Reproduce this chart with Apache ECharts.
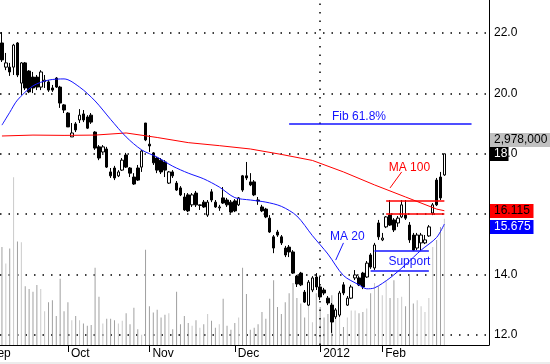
<!DOCTYPE html>
<html>
<head>
<meta charset="utf-8">
<script src="https://cdn.jsdelivr.net/npm/echarts@6/dist/echarts.min.js"></script>
<style>html,body{margin:0;padding:0;background:#fff}#c{width:550px;height:364px}</style>
</head>
<body>
<div id="c"></div>
<script>
// Daily candles: [open, close, low, high]
const ohlc = [
[21.67,21.11,21.04,22.03],[20.87,21.01,20.77,21.34],[20.87,20.71,20.58,21.01],[20.87,21.60,20.61,21.64],
[21.67,20.61,20.54,21.70],[20.34,21.01,19.95,21.04],[21.01,20.18,20.11,21.04],[20.74,20.05,20.01,20.77],
[20.54,20.18,20.01,20.71],[20.54,20.21,20.11,20.61],[20.21,20.71,20.11,20.77],[20.39,20.44,20.18,20.61],
[20.38,20.11,20.05,20.44],[20.18,20.11,20.05,20.28],[20.51,20.21,20.18,20.54],[20.21,19.68,19.52,20.25],
[19.62,19.45,19.35,19.65],[19.35,18.89,18.89,19.38],[18.56,18.69,18.56,19.02],[18.99,18.79,18.72,19.05],
[19.12,19.28,19.02,19.48],[19.32,19.12,19.05,19.45],[19.22,18.85,18.82,19.28],[19.28,19.05,18.99,19.35],
[18.72,18.19,18.13,18.75],[18.23,17.86,17.79,18.29],[18.06,18.23,18.03,18.29],[18.16,17.56,17.53,18.23],
[17.40,17.27,17.20,17.53],[17.53,17.20,17.13,17.60],[17.27,17.40,17.23,17.46],[17.46,17.79,17.43,17.86],
[17.96,17.56,17.53,18.03],[17.53,17.36,17.23,17.56],[17.23,17.00,16.97,17.36],[17.53,17.13,17.10,17.63],
[17.56,18.09,17.40,18.13],[19.02,18.46,18.42,19.02],[18.32,18.26,18.06,18.62],[18.03,17.70,17.63,18.06],
[17.86,17.46,17.36,17.89],[17.79,17.40,17.33,17.86],[17.73,17.46,17.23,17.79],[17.03,17.40,17.00,17.43],
[17.40,17.27,17.20,17.46],[17.03,16.80,16.77,17.10],[16.87,16.64,16.60,16.93],[16.57,16.14,16.11,16.70],
[16.64,16.11,16.07,16.70],[16.31,16.64,16.24,16.70],[16.70,16.31,16.24,16.77],[16.29,16.31,16.14,16.32],
[16.40,16.24,16.21,16.47],[15.97,16.40,15.91,16.47],[16.74,16.47,16.40,16.83],[16.40,16.24,16.21,16.47],
[16.21,16.24,16.11,16.31],[16.54,16.37,16.34,16.90],[16.47,16.31,16.24,16.54],[16.40,16.07,16.04,16.47],
[16.44,16.11,16.07,16.50],[16.31,16.54,16.27,16.57],[17.27,16.80,16.74,17.30],[17.27,17.20,17.13,17.73],
[17.07,16.97,16.93,17.36],[17.07,16.64,16.60,17.13],[16.47,16.44,16.31,16.57],[16.24,16.11,16.07,16.31],
[16.17,15.91,15.87,16.21],[15.87,15.41,15.38,15.97],[15.25,14.88,14.71,15.31],[15.41,15.31,15.25,15.48],
[15.25,15.05,14.98,15.31],[14.88,14.65,14.58,14.95],[14.91,14.75,14.58,14.98],[14.75,14.05,14.02,14.81],
[13.95,13.69,13.59,13.99],[14.05,13.66,13.62,14.09],[13.42,13.09,13.06,13.49],[12.99,13.75,12.96,13.82],
[13.49,13.89,13.42,13.95],[13.92,13.59,13.49,14.05],[13.59,13.26,13.16,13.92],[13.49,13.39,13.32,13.56],
[13.22,13.06,12.99,13.29],[12.99,12.43,12.07,13.06],[12.60,12.83,12.53,12.89],[12.66,13.39,12.60,13.46],
[13.66,13.39,13.32,13.75],[12.99,13.22,12.96,13.29],[13.22,13.59,13.19,13.66],[13.89,13.99,13.82,14.15],
[13.89,13.66,13.62,13.95],[14.05,13.59,13.52,14.09],[13.92,14.38,13.89,14.45],[14.65,14.25,14.19,14.71],
[14.22,14.98,14.15,15.05],[15.71,15.25,15.15,15.81],[15.15,15.21,15.11,15.38],[15.58,15.91,15.54,15.94],
[15.97,15.64,15.61,16.47],[15.81,15.48,15.41,15.87],[15.71,15.87,15.58,15.94],[15.91,16.31,15.87,16.47],
[15.97,15.87,15.81,16.47],[15.64,15.15,15.05,15.74],[15.31,14.81,14.78,15.38],[14.88,15.31,14.81,15.38],
[15.05,15.31,14.81,15.38],[15.05,15.15,15.01,15.31],[15.28,15.58,15.25,15.64],[16.04,16.31,15.97,16.37],
[17.13,16.31,16.27,17.20],[17.23,16.54,16.47,17.40],[17.30,18.00,17.27,18.00]
];
// Daily volume, millions of shares
const volume = [
1.42,1.18,1.40,2.43,1.50,1.49,0.85,0.81,0.77,0.87,
0.81,0.49,0.62,0.65,0.42,0.96,0.49,0.62,0.36,0.42,
0.36,0.31,0.28,0.29,1.12,0.70,0.31,0.38,0.38,0.36,
0.31,0.35,0.46,0.30,0.54,0.23,0.15,1.38,0.56,0.47,
0.51,0.40,0.44,0.46,0.23,0.77,
0.30,0.42,0.32,0.28,0.36,0.25,0.30,0.45,0.35,0.25,
0.30,0.67,0.28,0.22,0.32,0.40,1.12,0.74,0.22,0.25,
0.30,0.48,0.38,0.67,0.94,0.55,0.45,0.62,0.75,0.90,
0.68,0.60,0.40,0.85,0.33,0.75,0.55,0.40,0.45,0.72,
0.40,0.55,0.26,0.40,0.50,0.50,
0.46,0.48,0.53,0.75,0.90,0.85,0.72,0.94,0.68,0.94,
0.68,0.70,0.56,1.01,0.60,0.65,0.56,0.48,0.68,1.42,
1.52,1.71,1.83
];
// Moving averages (day index -> value)
const ma20Idx = [0,2,4,8,12,16,20,24,28,32,36,40,44,48,52,56,60,64,68,72,76,80,84,88,92,94,96,100,104,108,112,114];
const ma20Val = [18.95,19.37,19.78,20.25,20.44,20.48,20.21,19.75,19.14,18.56,18.13,17.89,17.59,17.36,17.17,16.90,16.55,16.47,16.40,16.26,15.94,15.29,14.68,13.97,13.66,13.53,13.56,13.89,14.33,14.81,15.23,15.675];
const ma100Idx = [0,8,16,24,32,40,48,56,64,72,80,88,96,104,112,114];
const ma100Val = [18.59,18.62,18.61,18.62,18.69,18.54,18.37,18.27,18.16,17.98,17.78,17.40,16.97,16.57,16.17,16.115];
// Month ticks (day index of first session of month)
const monthLabels = ['Sep','Oct','Nov','Dec','2012','Feb'];
const monthIdx = [-4,17,38,60,82,98];
const yearIdx = 82;
// Price axis range shown
const priceMin = 11.669, priceMax = 23.093, priceStep = 2;
// Drawn annotations
const fibSpan = [74,121];
const fibLevel = 18.99;
const supportSpans = [[96,110],[95,110]];
const supportLevels = [14.79,14.13];
const resistSpan = [99,114];
const resistLevels = [16.45,16.01];
const noteTexts = ['Fib 61.8%','MA 100','MA 20','Support'];
const noteIdx = [92,105,89,105];
const noteVal = [19.22,17.53,15.25,14.42];
const ma100Pointer = [[103,17.40],[100,16.87]];
const ma20Pointer = [[88,15.05],[86,14.48]];
// Right-hand tags
const volTag = 2978000;
const lastTag = 18;
const ma100Tag = 16.115;
const ma20Tag = 15.675;

const FONT = "'Liberation Sans', Arial, sans-serif";
const BLUE = '#1414ff', RED = '#ff0000';
const N = ohlc.length, TAIL = 11, TOTAL = N + TAIL;
const cats = Array.from({length: TOTAL}, (_, i) => String(i));
const padArr = (arr, empty) => arr.concat(Array(TAIL).fill(empty));
const monthAt = {};
monthIdx.forEach((d, k) => { monthAt[d] = monthLabels[k]; });
const isMonth = i => monthAt[i] !== undefined;
const dotted = {color: '#000', width: 1.5, type: [1.5, 7]};

const chart = echarts.init(document.getElementById('c'));
const noteColors = [BLUE, RED, BLUE, BLUE];
const mkNote = k => ({
  coord: [cats[noteIdx[k]], noteVal[k]], symbol: 'rect', symbolSize: 1,
  itemStyle: {color: 'rgba(0,0,0,0)'},
  label: {show: true, position: 'inside', formatter: noteTexts[k], color: noteColors[k], fontSize: 12, fontFamily: FONT}
});
const seg = (a, b, v) => [{coord: [cats[a], v]}, {coord: [cats[b], v]}];
const ptr = p => [{coord: [cats[p[0][0]], p[0][1]], lineStyle: {width: 1}}, {coord: [cats[p[1][0]], p[1][1]]}];

chart.setOption({
  animation: false,
  backgroundColor: '#fff',
  grid: [
    {left: 0, width: 489, top: 0, height: 345},
    {left: 0, width: 489, top: 0, height: 345}
  ],
  xAxis: [
    {type: 'category', gridIndex: 0, data: cats, show: false},
    {type: 'category', gridIndex: 1, data: cats,
     axisLine: {lineStyle: {color: '#000', width: 1}},
     axisTick: {show: true, alignWithLabel: true, interval: isMonth, length: 7, lineStyle: {color: '#000'}},
     axisLabel: {interval: isMonth, formatter: (v, i) => monthAt[i] || '', align: 'left', padding: [0, 0, 0, 3],
                 margin: 3, color: '#000', fontSize: 12, fontFamily: FONT},
     splitLine: {show: false}}
  ],
  yAxis: [
    {type: 'value', gridIndex: 0, position: 'right', min: priceMin, max: priceMax,
     minInterval: priceStep, maxInterval: priceStep,
     axisLine: {show: false}, axisTick: {show: false},
     axisLabel: {formatter: v => (Math.abs(v / priceStep - Math.round(v / priceStep)) < 1e-6 ? v.toFixed(1) : ''),
                 showMinLabel: false, showMaxLabel: false,
                 margin: 5, color: '#000', fontSize: 12, fontFamily: FONT},
     splitLine: {show: true, showMinLine: false, showMaxLine: false, lineStyle: dotted}},
    {type: 'value', gridIndex: 1, position: 'right', min: 0, max: 5,
     axisLine: {show: true, lineStyle: {color: '#000', width: 1}}, axisTick: {show: false},
     axisLabel: {show: false}, splitLine: {show: false}}
  ],
  series: [
    {type: 'bar', xAxisIndex: 1, yAxisIndex: 1, data: padArr(volume, '-'), barWidth: 1, silent: true,
     itemStyle: {color: p => { const c = ohlc[p.dataIndex]; return c && c[1] < c[0] ? '#a0a0a0' : '#cacaca'; }},
     markLine: {silent: true, symbol: 'none', label: {show: false}, lineStyle: dotted, data: [{xAxis: cats[yearIdx]}]}},
    {type: 'candlestick', xAxisIndex: 0, yAxisIndex: 0, data: padArr(ohlc, ['-','-','-','-']), barWidth: 3, silent: true,
     itemStyle: {color: '#fff', color0: '#000', borderColor: '#000', borderColor0: '#000', borderWidth: 1}},
    {type: 'line', xAxisIndex: 0, yAxisIndex: 0, data: ma100Idx.map((d, k) => [cats[d], ma100Val[k]]),
     symbol: 'none', silent: true, lineStyle: {color: RED, width: 1},
     markLine: {silent: true, symbol: 'none', label: {show: false}, lineStyle: {color: RED, width: 1.5, type: 'solid'},
       data: [seg(resistSpan[0], resistSpan[1], resistLevels[0]), seg(resistSpan[0], resistSpan[1], resistLevels[1]), ptr(ma100Pointer)]},
     markPoint: {silent: true, data: [mkNote(1)]}},
    {type: 'line', xAxisIndex: 0, yAxisIndex: 0, data: ma20Idx.map((d, k) => [cats[d], ma20Val[k]]),
     symbol: 'none', smooth: 0.3, silent: true, lineStyle: {color: BLUE, width: 1},
     markLine: {silent: true, symbol: 'none', label: {show: false}, lineStyle: {color: BLUE, width: 1.5, type: 'solid'},
       data: [seg(fibSpan[0], fibSpan[1], fibLevel),
              seg(supportSpans[0][0], supportSpans[0][1], supportLevels[0]),
              seg(supportSpans[1][0], supportSpans[1][1], supportLevels[1]),
              ptr(ma20Pointer)]},
     markPoint: {silent: true, data: [mkNote(0), mkNote(2), mkNote(3)]}}
  ]
});

// Right-side value tags and the clipped first month label, positioned through the axes
const yP = v => chart.convertToPixel({yAxisIndex: 0}, v);
const yV = chart.convertToPixel({yAxisIndex: 1}, volTag / 1e6);
const x0 = chart.convertToPixel({xAxisIndex: 1}, cats[0]);
const slotPx = chart.convertToPixel({xAxisIndex: 1}, cats[1]) - x0;
const yLast = yP(lastTag), yRed = yP(ma100Tag);
const yBlue = Math.max(yP(ma20Tag), yRed + 16);
const tagEls = (y, w, fill, text, color) => [
  {type: 'rect', silent: true, z: 100, zlevel: 1, shape: {x: 490, y: Math.round(y) - 7, width: w, height: 14}, style: {fill: fill}},
  {type: 'text', silent: true, z: 101, zlevel: 1, style: {x: 494, y: Math.round(y), text: text, fill: color, font: '12px ' + FONT, verticalAlign: 'middle'}}
];
chart.setOption({
  graphic: [].concat(
    tagEls(yV, 61, '#c0c0c0', volTag.toLocaleString('en-US'), '#000'),
    tagEls(yLast, 18.5, '#000', String(lastTag), '#fff'),
    tagEls(yRed, 43.5, RED, String(ma100Tag), '#000'),
    tagEls(yBlue, 43.5, '#0000ff', String(ma20Tag), '#fff'),
    [{type: 'text', silent: true, style: {x: x0 + monthIdx[0] * slotPx + 3, y: 348, text: monthLabels[0], fill: '#000',
      font: '12px ' + FONT, verticalAlign: 'top'}},
     {type: 'rect', silent: true, shape: {x: 0, y: 362, width: 550, height: 2}, style: {fill: '#ececec'}}]
  )
});
</script>
</body>
</html>
